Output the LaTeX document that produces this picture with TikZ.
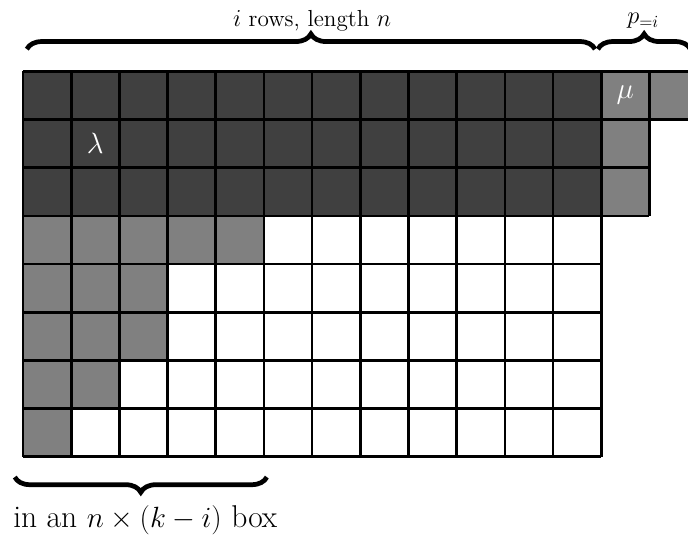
\documentclass[tikz,border=0pt]{standalone}
\usetikzlibrary{decorations.pathreplacing}
\definecolor{darkcell}{gray}{0.25}
\definecolor{midcell}{gray}{0.5}
\tikzset{
  bigbrace/.style={decorate,decoration={brace,amplitude=9pt},line width=2.8pt},
  cellfont/.style={text=white,font=\LARGE},
  bracefont/.style={font=\fontsize{13.7}{16}\selectfont},
}
\begin{document}
\begin{tikzpicture}[line width=1.6pt]
  \useasboundingbox (-0.477,-1.867) rectangle (13.8,9.48);
  % shaded cells
  \fill[darkcell] (0,5) rectangle (12,8);
  \fill[midcell] (12,5) rectangle (13,8);
  \fill[midcell] (13,7) rectangle (14,8);
  \fill[midcell] (0,4) rectangle (5,5);
  \fill[midcell] (0,2) rectangle (3,4);
  \fill[midcell] (0,1) rectangle (2,2);
  \fill[midcell] (0,0) rectangle (1,1);
  % grid lines
  \draw (0,0) grid (12,8);
  \draw (12,5) grid (13,8);
  \draw (13,8) -- (14,8) (13,7) -- (14,7);
  \node[cellfont] (lam) at (1.5,6.5) {$\lambda$};
  \node[cellfont] (mu) at (12.5,7.5) {$\mu$};
  % braces
  \coordinate (topA) at (0.08,8.46);
  \coordinate (topB) at (11.87,8.46);
  \coordinate (topC) at (11.93,8.46);
  \coordinate (topD) at (13.85,8.46);
  \coordinate (botA) at (5.06,-0.42);
  \coordinate (botB) at (-0.17,-0.42);
  \draw[bigbrace] (topA) -- (topB);
  \draw[bigbrace] (topC) -- (topD);
  \draw[bigbrace] (botA) -- (botB);
  \node[bracefont] (rows) at (6.0,9.05) {$i$ rows, length $n$};
  \node[bracefont] (pi) at (12.87,9.05) {$p_{=i}$};
  \node[anchor=west,font=\fontsize{18.6}{22}\selectfont,inner sep=0pt] (box) at (-0.23,-1.31) {in an $n\times(k-i)$ box};
\end{tikzpicture}
\end{document}
